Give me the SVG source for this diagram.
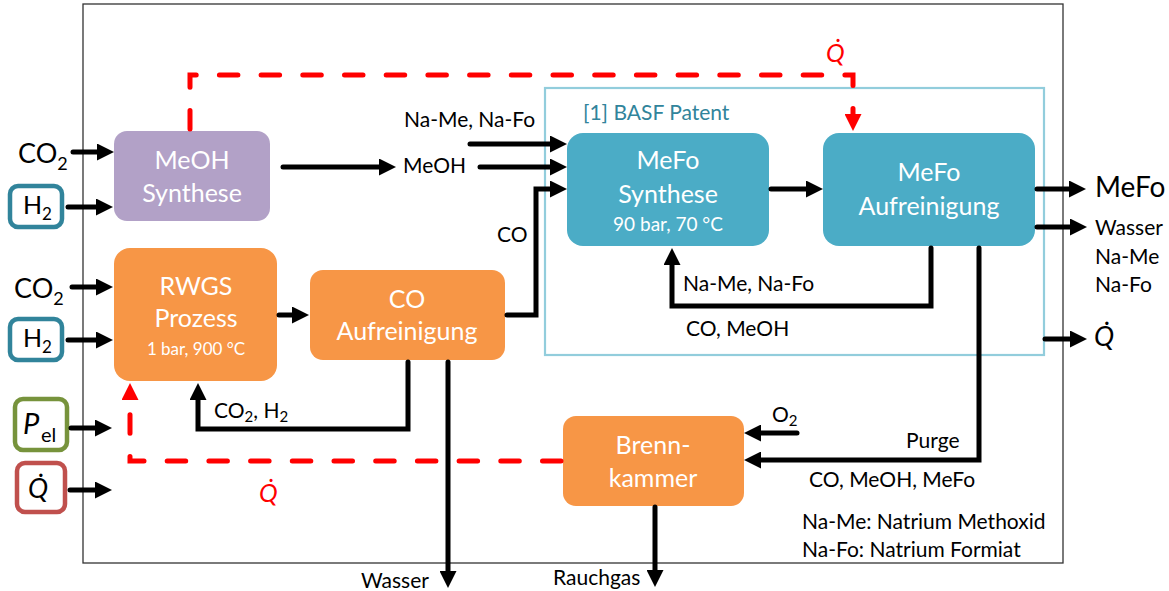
<svg xmlns="http://www.w3.org/2000/svg" width="1169" height="591" viewBox="0 0 1169 591">
  <defs>
    <style>
      text { font-family: Lato, "Open Sans", "Liberation Sans", sans-serif; }
      .lbl { font-size: 21px; fill: #000; }
      .big { font-size: 27px; fill: #000; }
      .node-t { font-size: 25px; fill: #fff; text-anchor: middle; }
      .node-s { font-size: 19px; fill: #fff; text-anchor: middle; }
      .qi { font-style: italic; font-size: 27px; fill: #000; }
      .qr { font-style: italic; font-size: 25px; fill: #ff0000; }
      .flow { fill: none; stroke: #000; stroke-width: 5; stroke-linecap: round; stroke-linejoin: miter; }
      .heat { fill: none; stroke: #ff0000; stroke-width: 5; stroke-linecap: round; stroke-dasharray: 18.5 23.2; }
      .inbox { fill: #fff; stroke-width: 4.5; }
    </style>
    <marker id="ah" markerUnits="userSpaceOnUse" markerWidth="17" markerHeight="17" viewBox="0 0 17 17" refX="0" refY="8.5" orient="auto">
      <path d="M0,0 L17,8.5 L0,17 z" fill="#000"/>
    </marker>
    <marker id="ahr" markerUnits="userSpaceOnUse" markerWidth="17" markerHeight="17" viewBox="0 0 17 17" refX="0" refY="8.5" orient="auto">
      <path d="M0,0 L17,8.5 L0,17 z" fill="#ff0000"/>
    </marker>
  </defs>

  <rect width="1169" height="591" fill="#fff"/>

  <!-- system boundary -->
  <rect id="boundary" x="83" y="4" width="980" height="559" fill="none" stroke="#333" stroke-width="1.3"/>

  <!-- patent scope -->
  <g id="basf">
    <rect x="545" y="88" width="499" height="267" fill="none" stroke="#92cddc" stroke-width="2.2"/>
    <text x="583" y="120" style="font-size:21px;fill:#31849b">[1] BASF Patent</text>
  </g>

  <!-- external inputs -->
  <g id="in-co2-a">
    <text class="big" x="18" y="163">CO<tspan font-size="18" dy="7">2</tspan></text>
  </g>
  <g id="in-h2-a">
    <rect class="inbox" x="10" y="186" width="52" height="41" rx="8" stroke="#31849b"/>
    <text class="big" x="23" y="214" style="font-size:25px">H<tspan font-size="17" dy="6">2</tspan></text>
  </g>
  <g id="in-co2-b">
    <text class="big" x="14" y="298">CO<tspan font-size="18" dy="7">2</tspan></text>
  </g>
  <g id="in-h2-b">
    <rect class="inbox" x="10" y="319" width="52" height="41" rx="8" stroke="#31849b"/>
    <text class="big" x="23" y="347" style="font-size:25px">H<tspan font-size="17" dy="6">2</tspan></text>
  </g>
  <g id="in-pel">
    <rect class="inbox" x="15" y="399" width="52" height="51" rx="8" stroke="#77933c"/>
    <text class="qi" x="23" y="434" style="font-size:29px">P</text>
    <text class="lbl" x="41" y="442" style="font-size:20px">el</text>
  </g>
  <g id="in-q">
    <rect class="inbox" x="17" y="463" width="48" height="49" rx="8" stroke="#c0504d"/>
    <text class="qi" x="28" y="498">Q&#x307;</text>
  </g>

  <!-- process units -->
  <g id="meoh-synthese">
    <rect x="114" y="131" width="156" height="90" rx="13" fill="#b2a1c7"/>
    <text class="node-t" x="192" y="169">MeOH</text>
    <text class="node-t" x="192" y="202">Synthese</text>
  </g>
  <g id="rwgs">
    <rect x="114" y="248" width="163" height="133" rx="16" fill="#f79646"/>
    <text class="node-t" x="196" y="295">RWGS</text>
    <text class="node-t" x="196" y="327">Prozess</text>
    <text class="node-s" x="196" y="355" style="font-size:17px">1 bar, 900 °C</text>
  </g>
  <g id="co-aufreinigung">
    <rect x="310" y="270" width="195" height="90" rx="13" fill="#f79646"/>
    <text class="node-t" x="407" y="308">CO</text>
    <text class="node-t" x="407" y="340">Aufreinigung</text>
  </g>
  <g id="mefo-synthese">
    <rect x="567" y="133" width="202" height="113" rx="16" fill="#4bacc6"/>
    <text class="node-t" x="668" y="169">MeFo</text>
    <text class="node-t" x="668" y="203">Synthese</text>
    <text class="node-s" x="668" y="231">90 bar, 70 °C</text>
  </g>
  <g id="mefo-aufreinigung">
    <rect x="823" y="133" width="212" height="113" rx="16" fill="#4bacc6"/>
    <text class="node-t" x="929" y="181">MeFo</text>
    <text class="node-t" x="929" y="215">Aufreinigung</text>
  </g>
  <g id="brennkammer">
    <rect x="563" y="416" width="181" height="90" rx="13" fill="#f79646"/>
    <text class="node-t" x="653" y="454">Brenn-</text>
    <text class="node-t" x="653" y="487">kammer</text>
  </g>

  <!-- connectors -->
  <g id="connectors">
    <path class="flow" marker-end="url(#ah)" d="M73,152 H97"/>
    <path class="flow" marker-end="url(#ah)" d="M68,207 H96"/>
    <path class="flow" marker-end="url(#ah)" d="M72,287 H96"/>
    <path class="flow" marker-end="url(#ah)" d="M68,340 H96"/>
    <path class="flow" marker-end="url(#ah)" d="M71,428 H95"/>
    <path class="flow" marker-end="url(#ah)" d="M70,490 H95"/>
    <path class="flow" marker-end="url(#ah)" d="M283,167 H379"/>
    <path class="flow" marker-end="url(#ah)" d="M480,167 H550"/>
    <path class="flow" marker-end="url(#ah)" d="M470,144 H550"/>
    <path class="flow" marker-end="url(#ah)" d="M507,315 H536 V189 H550"/>
    <path class="flow" marker-end="url(#ah)" d="M279,315 H292"/>
    <path class="flow" marker-end="url(#ah)" d="M771,189 H806"/>
    <path class="flow" marker-end="url(#ah)" d="M931,248 V306 H672 V265"/>
    <path class="flow" marker-end="url(#ah)" d="M979,248 V460 H761"/>
    <path class="flow" marker-end="url(#ah)" d="M797,433 H761"/>
    <path class="flow" marker-end="url(#ah)" d="M408,362 V429 H198 V400"/>
    <path class="flow" marker-end="url(#ah)" d="M448,362 V571"/>
    <path class="flow" marker-end="url(#ah)" d="M655,507 V570"/>
    <path class="flow" marker-end="url(#ah)" d="M1037,189 H1069"/>
    <path class="flow" marker-end="url(#ah)" d="M1037,227 H1070"/>
    <path class="flow" marker-end="url(#ah)" d="M1045,339 H1070"/>
    <!-- heat integration -->
    <path class="heat" marker-end="url(#ahr)" d="M190,129 V75 H853 V114"/>
    <path class="heat" marker-end="url(#ahr)" d="M561,461 H130 V400"/>
  </g>

  <!-- stream labels -->
  <g id="labels">
    <text class="lbl" x="404" y="127">Na-Me, Na-Fo</text>
    <text class="lbl" x="403" y="173">MeOH</text>
    <text class="lbl" x="497" y="242">CO</text>
    <text class="lbl" x="683" y="291">Na-Me, Na-Fo</text>
    <text class="lbl" x="686" y="336">CO, MeOH</text>
    <text class="lbl" x="214" y="418">CO<tspan font-size="15" dy="4">2</tspan><tspan dy="-4">, H</tspan><tspan font-size="15" dy="4">2</tspan></text>
    <text class="lbl" x="772" y="422">O<tspan font-size="15" dy="4">2</tspan></text>
    <text class="lbl" x="906" y="448">Purge</text>
    <text class="lbl" x="809" y="487">CO, MeOH, MeFo</text>
    <text class="lbl" x="802" y="529">Na-Me: Natrium Methoxid</text>
    <text class="lbl" x="802" y="557">Na-Fo: Natrium Formiat</text>
    <text class="lbl" x="361" y="588">Wasser</text>
    <text class="lbl" x="553" y="585">Rauchgas</text>
    <text class="big" x="1095" y="197" style="font-size:28px">MeFo</text>
    <text class="lbl" x="1095" y="235">Wasser</text>
    <text class="lbl" x="1095" y="264">Na-Me</text>
    <text class="lbl" x="1095" y="292">Na-Fo</text>
    <text class="qi" x="1094" y="346">Q&#x307;</text>
    <text class="qr" x="826" y="62">Q&#x307;</text>
    <text class="qr" x="259" y="502">Q&#x307;</text>
  </g>
</svg>
